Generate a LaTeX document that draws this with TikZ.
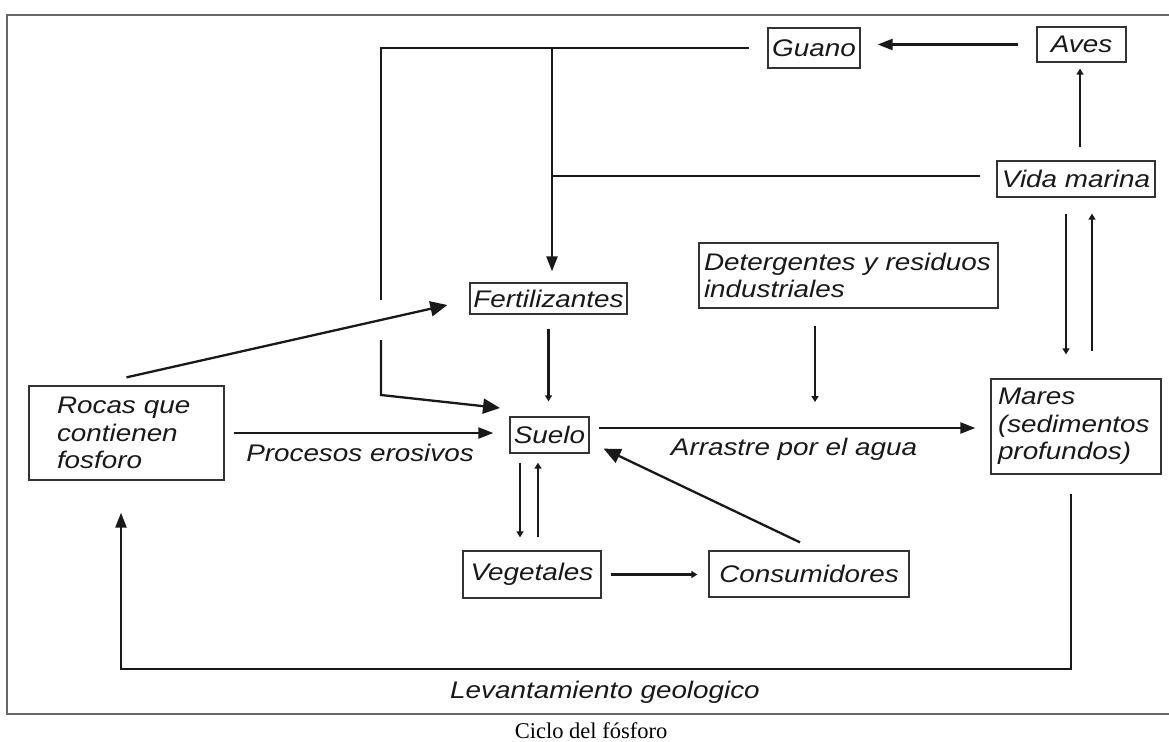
\documentclass[tikz,border=0pt]{standalone}
\usepackage{fontspec}
\usetikzlibrary{arrows.meta}
\newfontfamily\diagfont{Liberation Sans}[FakeStretch=1.16]
\newfontfamily\capfont{Liberation Serif}
\begin{document}
\begin{tikzpicture}[x=1pt,y=-1pt,
  box/.style={draw=black!80, line width=1.3pt, rectangle, inner sep=0pt,
    font=\diagfont\itshape\fontsize{24}{27.5}\selectfont, text=black!90},
  lbl/.style={inner sep=0pt, font=\diagfont\itshape\fontsize{24}{27.5}\selectfont, text=black!90},
  link/.style={line width=2.3pt, draw=black!90},
  bighead/.style={-{Triangle[length=17pt,width=15pt]}},
  midhead/.style={-{Triangle[length=15pt,width=11pt]}},
  smallhead/.style={-{Triangle[length=6pt,width=7pt]}},
]
\path[use as bounding box] (0,0) rectangle (1169,741);
\fill[white] (0,0) rectangle (1169,741);

% outer frame (open on the right)
\draw[black!60, line width=1.3pt] (1169,15) -- (7,15) -- (7,714) -- (1169,714);

% boxes
\node[box, minimum width=92pt, minimum height=40pt] (guano) at (814,48) {Guano};
\node[box, minimum width=89pt, minimum height=35pt] (aves) at (1081.5,44.5) {Aves};
\node[box, minimum width=158pt, minimum height=36pt] (vida) at (1076,179) {Vida marina};
\node[box, text width=289pt, inner xsep=5pt, minimum height=65pt, align=left] (deter) at (848.5,275.5) {Detergentes y residuos\\industriales};
\node[box, minimum width=157pt, minimum height=31pt] (fert) at (548.5,298.5) {Fertilizantes};
\node[box, minimum width=79pt, minimum height=36pt] (suelo) at (549.5,435) {Suelo};
\node[box, text width=139pt, inner xsep=28pt, minimum height=94pt, align=left] (rocas) at (126.5,433) {Rocas que\\contienen\\fosforo};
\node[box, text width=156pt, inner xsep=7pt, minimum height=95pt, align=left] (mares) at (1076,426.5) {Mares\\(sedimentos\\profundos)};
\node[box, minimum width=138pt, minimum height=47pt] (veg) at (532,574.5) {Vegetales};
\node[box, minimum width=200pt, minimum height=46pt] (cons) at (809,574) {Consumidores};

% edge labels
\node[lbl] (erosion) at (360,453) {Procesos erosivos};
\node[lbl] (arrastre) at (794,449) {Arrastre por el agua};
\node[lbl] (levant) at (605,692) {Levantamiento geologico};
\node[font=\capfont\fontsize{22.5}{27}\selectfont, anchor=base, inner sep=0pt] (caption) at (591,738) {Ciclo del fósforo};

% bend points and free ends
\coordinate (guanoEnd) at (749,48);
\coordinate (topL) at (381,48);
\coordinate (topJ) at (552,48);
\coordinate (gapA) at (381,300);
\coordinate (gapB) at (381,340);
\coordinate (bendS) at (381,395);
\coordinate (sueloIn) at (500,408);
\coordinate (vidaEnd) at (980,176);
\coordinate (detIn) at (815,402);
\coordinate (geoR) at (1071,669);
\coordinate (geoL) at (121,669);

% guano to soil and fertilizers
\draw[link] (guanoEnd) -- (topL) -- (gapA);
\draw[link, bighead] (gapB) -- (bendS) -- (sueloIn);
\draw[link, midhead, shorten >=11pt] (topJ) -- (topJ |- fert.north);
\draw[link] (vidaEnd) -- (vidaEnd -| topJ);

% top right
\draw[link, midhead, shorten <=18pt, shorten >=17pt] (aves.west) -- (aves.west -| guano.east);
\draw[link, smallhead, shorten <=13pt, shorten >=6pt] ([xshift=4pt]vida.north) -- ([xshift=4pt]vida.north |- aves.south);
\draw[link, smallhead, shorten <=16pt, shorten >=24pt] ([xshift=-10pt]vida.south) -- ([xshift=-10pt]vida.south |- mares.north);
\draw[link, smallhead, shorten <=27pt, shorten >=16pt] ([xshift=16pt]vida.south |- mares.north) -- ([xshift=16pt]vida.south);

% centre
\draw[link, smallhead, shorten <=14pt, shorten >=15pt] (fert.south) -- (fert.south |- suelo.north);
\draw[link, bighead] ([yshift=8pt]rocas.north) -- ([xshift=-22pt,yshift=-6.5pt]fert.west);
\draw[link, midhead, shorten <=9pt, shorten >=16pt] (rocas.east) -- (rocas.east -| suelo.west);
\draw[link, midhead, shorten <=9pt, shorten >=15pt] ([yshift=7pt]suelo.east) -- ([yshift=7pt]suelo.east -| mares.west);
\draw[link, smallhead, shorten <=17pt] ([xshift=-33.5pt]deter.south) -- (detIn);
\draw[link, bighead] ([xshift=-9pt,yshift=8pt]cons.north) -- ([xshift=14pt,yshift=5pt]suelo.south east);
\draw[link, smallhead, shorten <=9pt, shorten >=11pt] (veg.east) -- (veg.east -| cons.west);
\draw[link, smallhead, shorten <=9pt, shorten >=13pt] ([xshift=-29.5pt]suelo.south) -- ([xshift=-29.5pt]suelo.south |- veg.north);
\draw[link, smallhead, shorten <=13pt, shorten >=9pt] ([xshift=-11.5pt]suelo.south |- veg.north) -- ([xshift=-11.5pt]suelo.south);

% geological uplift back to the rocks
\draw[link, midhead] ([xshift=-5pt,yshift=-19pt]mares.south) -- (geoR) -- (geoL) -- ([xshift=-5.5pt,yshift=-32pt]rocas.south);
\end{tikzpicture}
\end{document}
